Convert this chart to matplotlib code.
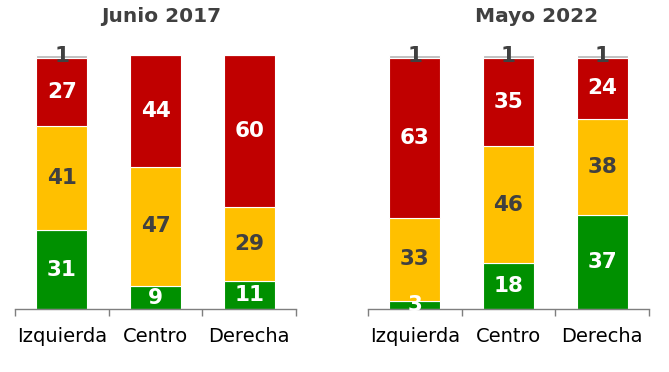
import matplotlib
matplotlib.use("Agg")
import matplotlib.pyplot as plt
import numpy as np

categories = ["Izquierda", "Centro", "Derecha"]
panel_titles = ["Junio 2017", "Mayo 2022"]

# segments bottom-to-top: green, yellow, red, grey
green_2017 = [31, 9, 11]
yellow_2017 = [41, 47, 29]
red_2017 = [27, 44, 60]
grey_2017 = [1, 0, 0]

green_2022 = [3, 18, 37]
yellow_2022 = [33, 46, 38]
red_2022 = [63, 35, 24]
grey_2022 = [1, 1, 1]

colors = ["#009000", "#FFC000", "#C00000", "#BFBFBF"]
text_colors = ["white", "#404040", "white", "#404040"]
dark = "#404040"

fig = plt.figure(figsize=(6.69, 3.72), dpi=100)
W, H = 669, 372

panels = [
    (15, [green_2017, yellow_2017, red_2017, grey_2017]),
    (368, [green_2022, yellow_2022, red_2022, grey_2022]),
]
title_x = [161, 537]

for (left_px, series), title, tx in zip(panels, panel_titles, title_x):
    ax = fig.add_axes([left_px / W, (H - 309) / H, 281 / W, 254 / H])
    x = np.arange(len(categories))
    bottom = np.zeros(len(categories))
    for vals, c, tc in zip(series, colors, text_colors):
        vals = np.array(vals, dtype=float)
        ax.bar(x, vals, bottom=bottom, width=0.545, color=c,
               edgecolor="white", linewidth=0.8, zorder=2)
        for xi, v, b in zip(x, vals, bottom):
            if v > 0:
                ax.text(xi, b + v / 2, f"{int(v)}", ha="center", va="center",
                        color=tc, fontsize=15.5, fontweight="bold", zorder=3)
        bottom += vals
    ax.set_xlim(-0.5, 2.5)
    ax.set_ylim(0, 100)
    for s in ["top", "right", "left"]:
        ax.spines[s].set_visible(False)
    ax.spines["bottom"].set_color("#7F7F7F")
    ax.spines["bottom"].set_linewidth(1)
    ax.set_yticks([])
    ax.set_xticks(x)
    ax.set_xticklabels(categories, fontsize=14, color="black")
    ax.tick_params(axis="x", which="major", length=0, pad=13)
    ax.set_xticks([-0.5, 0.5, 1.5, 2.5], minor=True)
    ax.tick_params(axis="x", which="minor", length=5, color="#7F7F7F", width=1,
                   direction="out")
    ax.patch.set_alpha(0)
    fig.text(tx / W, 1 - 17 / H, title, ha="center", va="center",
             fontsize=14.5, fontweight="bold", color=dark)

fig.savefig("out.png", dpi=100)
